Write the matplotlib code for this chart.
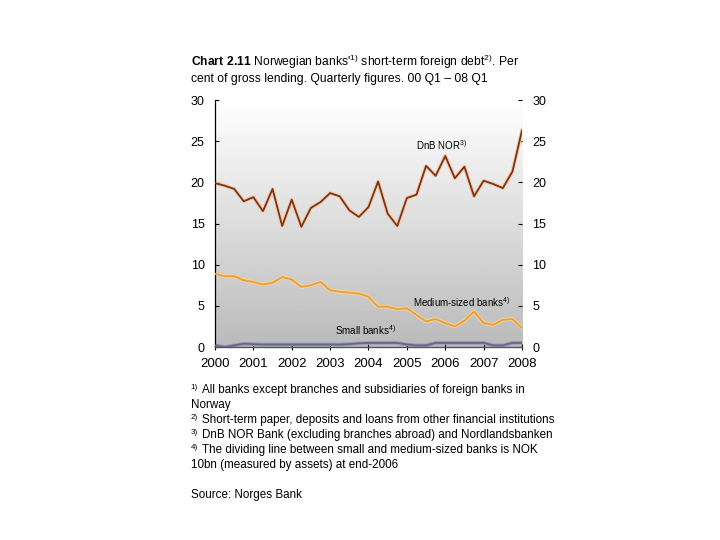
import numpy as np
import matplotlib
matplotlib.use("Agg")
import matplotlib.pyplot as plt

plt.rcParams["font.family"] = ["Liberation Sans", "DejaVu Sans"]
plt.rcParams["mathtext.fontset"] = "custom"
plt.rcParams["mathtext.rm"] = "Liberation Sans"
plt.rcParams["mathtext.bf"] = "Liberation Sans:bold"

# Quarterly data, 2000 Q1 - 2008 Q1 (per cent of gross lending)
years = ["2000", "2001", "2002", "2003", "2004", "2005", "2006", "2007", "2008"]
dnb_nor = [19.9, 19.6, 19.2, 17.7, 18.2, 16.5, 19.2, 14.7, 17.9, 14.6, 16.9,
           17.6, 18.7, 18.3, 16.6, 15.8, 17.0, 20.1, 16.2, 14.7, 18.1, 18.5,
           22.0, 20.8, 23.2, 20.5, 21.9, 18.3, 20.2, 19.8, 19.3, 21.3, 26.3]
medium = [8.9, 8.6, 8.6, 8.1, 7.9, 7.6, 7.8, 8.5, 8.2, 7.3, 7.5,
          7.9, 6.9, 6.7, 6.6, 6.5, 6.1, 4.9, 4.9, 4.6, 4.7, 3.9,
          3.1, 3.4, 2.9, 2.5, 3.2, 4.3, 2.9, 2.7, 3.3, 3.4, 2.3]
small = [0.2, 0.0, 0.2, 0.4, 0.35, 0.3, 0.3, 0.3, 0.3, 0.3, 0.3,
         0.3, 0.3, 0.3, 0.35, 0.45, 0.5, 0.5, 0.5, 0.5, 0.3, 0.2,
         0.2, 0.5, 0.5, 0.5, 0.5, 0.5, 0.5, 0.2, 0.2, 0.5, 0.5]
yticks = [0, 5, 10, 15, 20, 25, 30]

# footnotes: (superscript marker, text)
notes = [("1)", "All banks except branches and subsidiaries of foreign banks in"),
         ("", "Norway"),
         ("2)", "Short-term paper, deposits and loans from other financial institutions"),
         ("3)", "DnB NOR Bank (excluding branches abroad) and Nordlandsbanken"),
         ("4)", "The dividing line between small and medium-sized banks is NOK"),
         ("", "10bn (measured by assets) at end-2006"),
         ("", ""),
         ("", "Source: Norges Bank")]

q = np.arange(len(dnb_nor))

fig = plt.figure(figsize=(7.2, 5.4), dpi=100)
ax = fig.add_axes([0.2986, 0.3574, 0.4264, 0.4574])

# grey gradient background (white at top, grey at bottom)
grad = np.linspace(1.0, 0.73, 256).reshape(-1, 1)
ax.imshow(grad, cmap="gray", vmin=0, vmax=1, aspect="auto",
          extent=[0, 32, 0, 30], origin="upper", zorder=0)

ax.plot(q, dnb_nor, color="#f3cbb0", lw=2.8, zorder=2)
ax.plot(q, dnb_nor, color="#7a3512", lw=1.3, zorder=3)
ax.plot(q, medium, color="#f6d49a", lw=2.8, zorder=2)
ax.plot(q, medium, color="#e9a040", lw=1.4, zorder=3)
ax.plot(q, small, color="#9a9ab8", lw=2.6, zorder=2)
ax.plot(q, small, color="#66668a", lw=1.3, zorder=3)

ax.set_xlim(0, 32)
ax.set_ylim(0, 30)
ax.set_xticks(np.arange(0, 33, 4))
ax.set_xticklabels(years, fontsize=9.5)
ax.set_yticks(yticks)
ax.set_yticklabels([str(v) for v in yticks], fontsize=9)
ax.tick_params(axis="y", direction="in", length=3, width=0.8, pad=7.5,
               left=True, right=True, labelleft=True, labelright=True)
ax.tick_params(axis="x", direction="inout", length=4, width=0.8, pad=6)

for s in ["top", "right"]:
    ax.spines[s].set_visible(False)
ax.spines["left"].set_linewidth(0.9)
ax.spines["bottom"].set_color("#555555")
ax.spines["bottom"].set_linewidth(1.0)

ax.text(21.0, 23.9, r"DnB NOR$^{3)}$", fontsize=7)
ax.text(20.6, 4.8, r"Medium-sized banks$^{4)}$", fontsize=7)
ax.text(12.5, 1.5, r"Small banks$^{4)}$", fontsize=7)

fig.text(0.265, 0.878,
         r"$\mathbf{Chart\ 2.11}$ Norwegian banks'$^{1)}$ short-term foreign debt$^{2)}$. Per",
         fontsize=8.7, va="baseline")
fig.text(0.265, 0.848,
         "cent of gross lending. Quarterly figures. 00 Q1 \u2013 08 Q1",
         fontsize=8.7, va="baseline")

for i, (mark, line) in enumerate(notes):
    y = 0.272 - i * 0.0278
    if mark:
        fig.text(0.265, y + 0.0075, mark, fontsize=5.8, va="baseline")
        fig.text(0.2805, y, line, fontsize=8.4, va="baseline")
    else:
        fig.text(0.265, y, line, fontsize=8.4, va="baseline")

fig.savefig("out.png", dpi=100)
